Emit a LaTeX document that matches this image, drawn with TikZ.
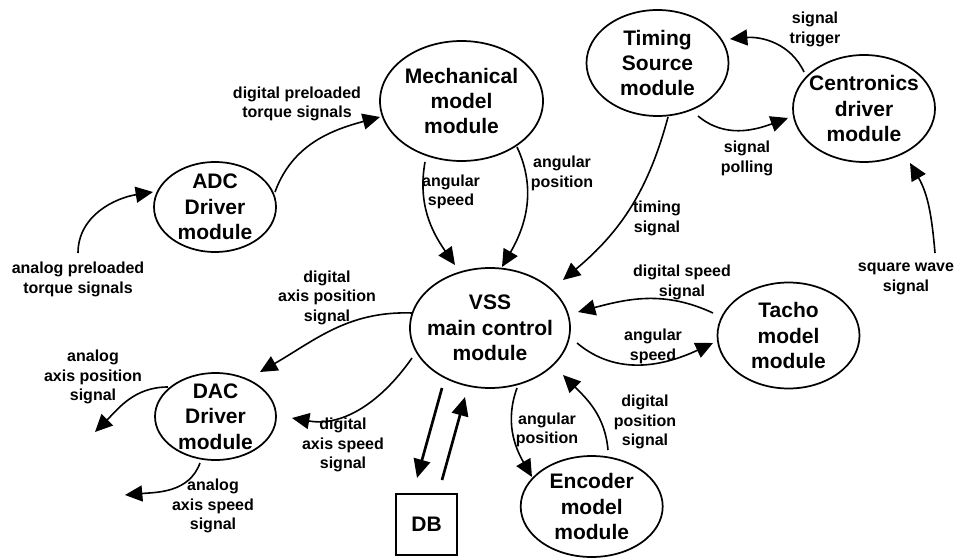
\documentclass[tikz,border=0pt]{standalone}
\usepackage{fontspec}
\setmainfont{Liberation Sans}
\usetikzlibrary{arrows.meta,calc,shapes.geometric}
\def\px{*0.75pt}
\begin{document}
\begin{tikzpicture}[x=0.75pt,y=0.75pt,
  module/.style={ellipse,draw,line width=1.3pt,inner sep=0pt},
  modtext/.style={align=center,inner sep=0pt,font=\bfseries\fontsize{15.75}{19}\selectfont},
  sig/.style={align=center,inner sep=0pt,font=\bfseries\fontsize{12}{14.5}\selectfont},
  flow/.style={line width=1.2pt,-{Triangle[length=13pt,width=12pt]}},
  dbflow/.style={line width=2pt,-{Triangle[length=14pt,width=12.5pt]}},
  store/.style={draw,line width=1.3pt,inner sep=0pt,minimum size=61\px,font=\bfseries\fontsize{15.75}{19}\selectfont},
]
\path[fill=white,use as bounding box] (0,0) rectangle (959,558);

% processes
\node[module,minimum width=163\px,minimum height=120\px] (mech) at (461.5,457) {};
\node[modtext] (mecht) at (mech) {Mechanical\\model\\module};
\node[module,minimum width=122\px,minimum height=90\px] (adc) at (215,351) {};
\node[modtext] (adct) at (adc) {ADC\\Driver\\module};
\node[module,minimum width=160\px,minimum height=120\px] (vss) at (490,230) {};
\node[modtext] (vsst) at (vss) {VSS\\main control\\module};
\node[module,minimum width=121\px,minimum height=87\px] (dac) at (215.5,141.5) {};
\node[modtext] (dact) at (dac) {DAC\\Driver\\module};
\node[module,minimum width=142\px,minimum height=101\px] (enc) at (591.7,51.5) {};
\node[modtext] (enct) at (enc) {Encoder\\model\\module};
\node[module,minimum width=142\px,minimum height=106\px] (tacho) at (788.5,222.5) {};
\node[modtext] (tachot) at (tacho) {Tacho\\model\\module};
\node[module,minimum width=142\px,minimum height=106\px] (timing) at (657.5,495) {};
\node[modtext] (timingt) at (timing) {Timing\\Source\\module};
\node[module,minimum width=142\px,minimum height=107\px] (cent) at (864,449.5) {};
\node[modtext] (centt) at (cent) {Centronics\\driver\\module};

% data store
\node[store] (db) at (426.5,33.5) {DB};

% external ends
\coordinate (aIn) at (78,305);
\coordinate (sqIn) at (935,305);
\coordinate (apOut) at (95,126);
\coordinate (asOut) at (125,63);

% flows
\draw[flow] (aIn) to[out=90,in=189] ($(adc)+(-62,15)$);
\draw[flow] ($(adc)+(60,15)$) to[out=70,in=195] ($(mech)+(-81.5,-16)$);
\draw[flow] ($(mech)+(-36.5,-61)$) to[out=260,in=125] ($(vss)+(-35,63)$);
\draw[flow] ($(mech)+(55.5,-46)$) to[out=-65,in=60] ($(vss)+(12,61)$);
\draw[flow] ($(timing)+(10.5,-54)$) to[out=255,in=40] ($(vss)+(73,48)$);
\draw[flow] ($(cent)+(-60,36.5)$) to[out=115,in=5] ($(timing)+(72.5,24)$);
\draw[flow] ($(timing)+(40.5,-53)$) to[out=-40,in=200] ($(cent)+(-76,-9.5)$);
\draw[flow] (sqIn) to[out=95,in=-60] ($(cent)+(46,-54.5)$);
\draw[flow] ($(tacho)+(-75.5,22.5)$) to[out=155,in=15] ($(vss)+(88,16)$);
\draw[flow] ($(vss)+(87,-15)$) to[out=-40,in=205] ($(tacho)+(-75.5,-7.5)$);
\draw[flow] ($(vss)+(27,-60)$) to[out=250,in=120] ($(enc)+(-59.7,29.5)$);
\draw[flow] ($(enc)+(16.3,56.5)$) to[out=95,in=-45] ($(vss)+(73,-47)$);
\draw[flow] ($(vss)+(-78,15)$) to[out=178,in=30] ($(dac)+(44.5,44.5)$);
\draw[flow] ($(vss)+(-78,-30)$) to[out=235,in=-10] ($(dac)+(76.5,-1.5)$);
\draw[flow] ($(dac)+(-47.5,29.5)$) to[out=180,in=45] (apOut);
\draw[flow] ($(dac)+(-15.5,-46.5)$) to[out=250,in=5] (asOut);
\draw[dbflow] ($(vss)+(-48,-60)$) -- ($(db)+(-9.5,46.5)$);
\draw[dbflow] ($(db)+(15.5,44.5)$) -- ($(vss)+(-25,-69)$);

% flow labels
\node[sig] (l1) at (78,278.5) {analog preloaded\\torque signals};
\node[sig] (l2) at (297,454) {digital preloaded\\torque signals};
\node[sig] (l3) at (451,366) {angular\\speed};
\node[sig] (l4) at (562,384.5) {angular\\position};
\node[sig] (l5) at (657,339.5) {timing\\signal};
\node[sig] (l6) at (815,528.5) {signal\\trigger};
\node[sig] (l7) at (747,399.5) {signal\\polling};
\node[sig] (l8) at (906,279) {square wave\\signal};
\node[sig] (l9) at (682,275.5) {digital speed\\signal};
\node[sig] (l10) at (653,211.5) {angular\\speed};
\node[sig] (l11) at (547,128) {angular\\position};
\node[sig] (l12) at (645,136) {digital\\position\\signal};
\node[sig] (l13) at (327,260.3) {digital\\axis position\\signal};
\node[sig] (l14) at (343,113) {digital\\axis speed\\signal};
\node[sig] (l15) at (93,181) {analog\\axis position\\signal};
\node[sig] (l16) at (213,52) {analog\\axis speed\\signal};
\end{tikzpicture}
\end{document}
